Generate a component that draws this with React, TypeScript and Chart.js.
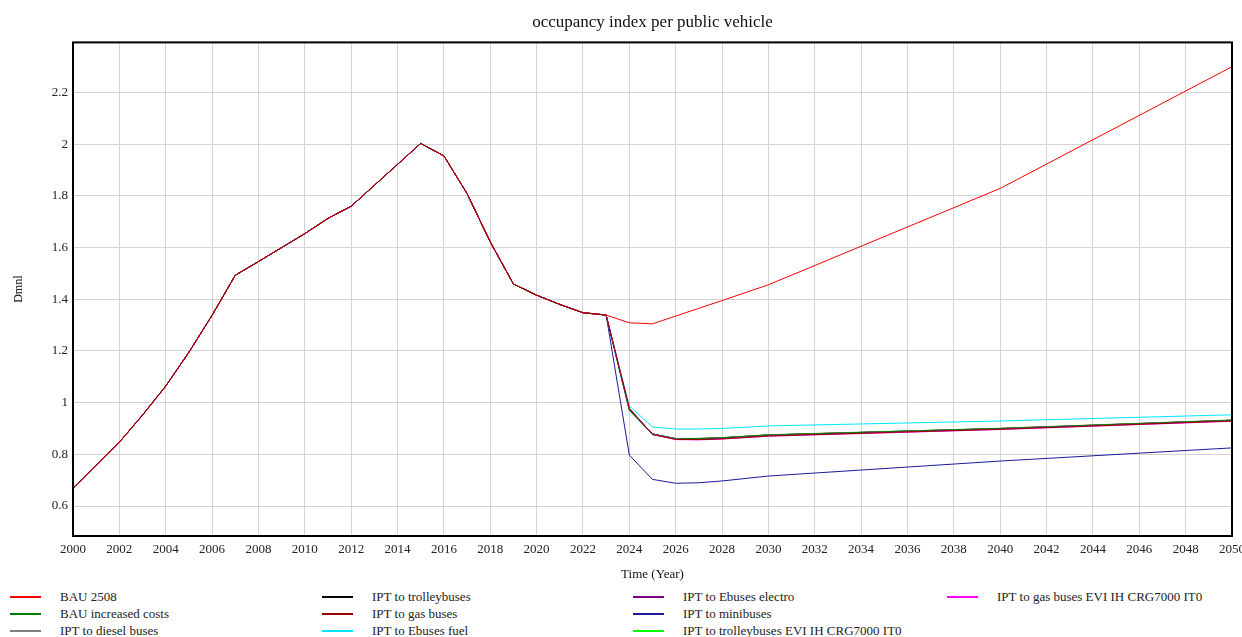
import React, { useEffect, useRef } from 'react';
import { Chart, registerables } from 'chart.js';
Chart.register(...registerables);

const FONT = '"Liberation Serif", "Times New Roman", serif';

const chartTitle = 'occupancy index per public vehicle';
const yAxisTitle = 'Dmnl';
const xAxisTitle = 'Time (Year)';

// shared history 2000-2023
const baseYears = [2000, 2001, 2002, 2003, 2004, 2005, 2006, 2007, 2008, 2009, 2010, 2011,
  2012, 2013, 2014, 2015, 2016, 2017, 2018, 2019, 2020, 2021, 2022, 2023];
const baseValues = [0.669, 0.758, 0.847, 0.952, 1.064, 1.195, 1.338, 1.493, 1.546, 1.600, 1.654, 1.713,
  1.760, 1.841, 1.922, 2.003, 1.955, 1.809, 1.622, 1.459, 1.416, 1.380, 1.348, 1.339];

// scenario values after 2023
const tailYears = [2024, 2025, 2026, 2027, 2028, 2030, 2040, 2050];
const bau2508 = [1.309, 1.305, 1.335, 1.365, 1.395, 1.456, 1.829, 2.300];
const bauIncreasedCosts = [0.970, 0.876, 0.860, 0.861, 0.864, 0.875, 0.900, 0.932];
const iptDieselBuses = [0.972, 0.878, 0.861, 0.862, 0.865, 0.876, 0.901, 0.933];
const iptTrolleybuses = [0.974, 0.879, 0.861, 0.861, 0.864, 0.875, 0.900, 0.932];
const iptGasBuses = [0.978, 0.877, 0.858, 0.857, 0.860, 0.871, 0.897, 0.929];
const iptEbusesFuel = [0.987, 0.906, 0.898, 0.898, 0.900, 0.910, 0.929, 0.953];
const iptEbusesElectro = [0.976, 0.878, 0.860, 0.860, 0.863, 0.874, 0.899, 0.931];
const iptMinibuses = [0.797, 0.703, 0.688, 0.690, 0.697, 0.716, 0.774, 0.825];
const iptTrolleyEVI = [0.973, 0.879, 0.861, 0.861, 0.864, 0.875, 0.900, 0.932];
const iptGasEVI = [0.979, 0.877, 0.857, 0.856, 0.859, 0.870, 0.896, 0.928];

const xMin = 2000;
const xMax = 2050;
const xStep = 2;
const yMin = 0.484;
const yMax = 2.394;
const yTicks = [0.6, 0.8, 1, 1.2, 1.4, 1.6, 1.8, 2, 2.2];
const yTickLabels = ['0.6', '0.8', '1', '1.2', '1.4', '1.6', '1.8', '2', '2.2'];

type S = { label: string; color: string; tail: number[]; order: number };
const series: S[] = [
  { label: 'BAU 2508', color: '#ff0000', tail: bau2508, order: 1 },
  { label: 'BAU increased costs', color: '#008000', tail: bauIncreasedCosts, order: 3 },
  { label: 'IPT to diesel buses', color: '#808080', tail: iptDieselBuses, order: 4 },
  { label: 'IPT to trolleybuses', color: '#000000', tail: iptTrolleybuses, order: 5 },
  { label: 'IPT to gas buses', color: '#990000', tail: iptGasBuses, order: 0 },
  { label: 'IPT to Ebuses fuel', color: '#00e5ff', tail: iptEbusesFuel, order: 6 },
  { label: 'IPT to Ebuses electro', color: '#800080', tail: iptEbusesElectro, order: 7 },
  { label: 'IPT to minibuses', color: '#1a1a9a', tail: iptMinibuses, order: 8 },
  { label: 'IPT to trolleybuses EVI IH CRG7000 IT0', color: '#00ff00', tail: iptTrolleyEVI, order: 9 },
  { label: 'IPT to gas buses EVI IH CRG7000 IT0', color: '#ff00ff', tail: iptGasEVI, order: 2 },
];

// legend layout: columns of labels (column-major as in the reference)
const legendColumns = [
  ['BAU 2508', 'BAU increased costs', 'IPT to diesel buses'],
  ['IPT to trolleybuses', 'IPT to gas buses', 'IPT to Ebuses fuel'],
  ['IPT to Ebuses electro', 'IPT to minibuses', 'IPT to trolleybuses EVI IH CRG7000 IT0'],
  ['IPT to gas buses EVI IH CRG7000 IT0'],
];
const legendColX = [10, 322, 633, 947];
const legendRowY = [597, 614, 631];

const frame = {
  id: 'frame',
  afterDatasetsDraw(chart: any) {
    const { ctx, chartArea } = chart;
    ctx.save();
    ctx.strokeStyle = '#000';
    ctx.lineWidth = 2;
    ctx.strokeRect(chartArea.left, chartArea.top, chartArea.right - chartArea.left, chartArea.bottom - chartArea.top);
    ctx.restore();
  },
};

export default function App() {
  const ref = useRef<HTMLCanvasElement>(null);
  useEffect(() => {
    document.body.style.margin = '0';
    const datasets = series.map((s) => ({
      label: s.label,
      data: [
        ...baseYears.map((x, i) => ({ x, y: baseValues[i] })),
        ...tailYears.map((x, i) => ({ x, y: s.tail[i] })),
      ],
      borderColor: s.color,
      backgroundColor: s.color,
      borderWidth: 1,
      pointRadius: 0,
      tension: 0,
      fill: false,
      order: s.order,
    }));
    const chart = new Chart(ref.current!, {
      type: 'line',
      data: { datasets },
      plugins: [frame],
      options: {
        animation: false,
        responsive: false,
        layout: { padding: { left: 0, right: 10, top: 0, bottom: 0 } },
        plugins: {
          legend: { display: false },
          tooltip: { enabled: false },
          title: {
            display: true,
            text: chartTitle,
            fullSize: false,
            color: '#111',
            font: { family: FONT, size: 17, weight: 'normal' },
            padding: { top: 12, bottom: 10 },
          },
        },
        scales: {
          x: {
            type: 'linear',
            min: xMin,
            max: xMax,
            grid: { color: '#d4d4d4', drawTicks: false, lineWidth: 1 },
            border: { display: false },
            ticks: {
              stepSize: xStep,
              autoSkip: false,
              maxRotation: 0,
              padding: 6,
              color: '#222',
              font: { family: FONT, size: 13 },
              callback: (v: any) => String(v),
            },
            title: {
              display: true,
              text: xAxisTitle,
              color: '#111',
              font: { family: FONT, size: 13 },
              padding: { top: 0, bottom: 3 },
            },
            afterFit: (s: any) => {
              s.height = 49;
              s.paddingLeft = 0;
              s.paddingRight = 0;
            },
          },
          y: {
            type: 'linear',
            min: yMin,
            max: yMax,
            grid: { color: '#d4d4d4', drawTicks: false, lineWidth: 1 },
            border: { display: false },
            afterBuildTicks: (s: any) => {
              s.ticks = yTicks.map((v) => ({ value: v }));
            },
            ticks: {
              padding: 5,
              color: '#222',
              font: { family: FONT, size: 13 },
              callback: (_v: any, i: number) => yTickLabels[i],
            },
            title: {
              display: true,
              text: yAxisTitle,
              color: '#111',
              font: { family: FONT, size: 12 },
              padding: { top: 12, bottom: 0 },
            },
            afterFit: (s: any) => {
              s.width = 73;
              s.paddingTop = 0;
              s.paddingBottom = 0;
            },
          },
        },
      } as any,
    });
    return () => chart.destroy();
  }, []);

  const colorOf = (label: string) => series.find((s) => s.label === label)!.color;

  return (
    <div style={{ position: 'relative', width: 1242, height: 637, background: '#fff', fontFamily: FONT, overflow: 'hidden' }}>
      <canvas ref={ref} width={1242} height={585} style={{ position: 'absolute', left: 0, top: 0, width: 1242, height: 585 }} />
      {legendColumns.map((col, ci) =>
        col.map((label, ri) => (
          <div
            key={label}
            style={{
              position: 'absolute',
              left: legendColX[ci],
              top: legendRowY[ri] - 9,
              height: 18,
              display: 'flex',
              alignItems: 'center',
              whiteSpace: 'nowrap',
              fontSize: 13,
              color: '#222',
            }}
          >
            <span style={{ display: 'inline-block', width: 31, height: 2, background: colorOf(label), marginRight: 19 }} />
            <span>{label}</span>
          </div>
        ))
      )}
    </div>
  );
}
